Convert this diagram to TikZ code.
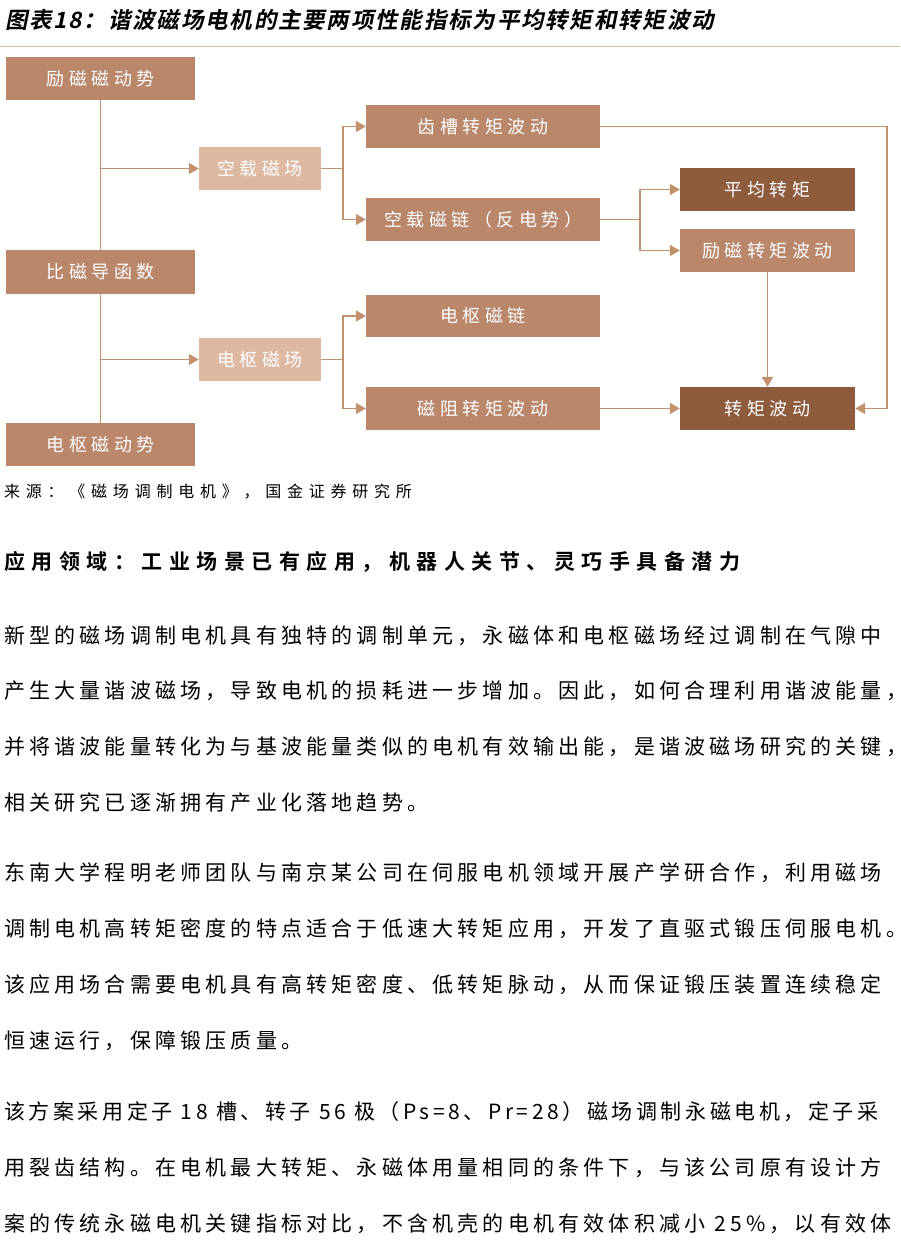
\documentclass[tikz,border=0pt]{standalone}
\usepackage{fontspec}
\setmainfont{Noto Sans CJK SC}
\newfontfamily\cjkb{Noto Sans CJK SC Bold}[FakeSlant=0.2]
\newfontfamily\cjkh{Noto Sans CJK SC Bold}
\usetikzlibrary{arrows.meta}
\definecolor{dk}{HTML}{8E5B3D}
\definecolor{md}{HTML}{BA876A}
\definecolor{lt}{HTML}{DEB9A2}
\definecolor{ln}{HTML}{C2926F}
\tikzset{
 bx/.style={fill=#1,draw=none,text=white,font=\fontsize{18}{18}\selectfont\addfontfeature{LetterSpace=25},inner sep=0pt},
 conn/.style={draw=ln,line width=1.8pt},
 arr/.style={conn,-{Triangle[length=10pt,width=11pt]}},
 para/.style={anchor=west,inner sep=0pt,font=\fontsize{21}{21}\selectfont\addfontfeature{LetterSpace=20}}
}
\begin{document}
\begin{tikzpicture}[x=1pt,y=-1pt]
\useasboundingbox (0,0) rectangle (900,1247);
\fill[white] (0,0) rectangle (900,1247);
\node[anchor=west,inner sep=0pt,font=\cjkb\fontsize{22.5}{22.5}\selectfont\addfontfeature{LetterSpace=8}] (title) at (5,20) {图表18：谐波磁场电机的主要两项性能指标为平均转矩和转矩波动};
\draw[draw=lt,line width=1pt] (0,47) -- (900,47);
% boxes
\node[bx=md,minimum width=189pt,minimum height=43pt] (a) at (100.5,78.5) {励磁磁动势};
\node[bx=md,minimum width=189pt,minimum height=44pt] (b) at (100.5,272) {比磁导函数};
\node[bx=md,minimum width=189pt,minimum height=43pt] (c) at (100.5,444.5) {电枢磁动势};
\node[bx=lt,minimum width=122pt,minimum height=43pt] (d) at (260,168.5) {空载磁场};
\node[bx=lt,minimum width=122pt,minimum height=43pt] (e) at (260,359.5) {电枢磁场};
\node[bx=md,minimum width=234pt,minimum height=43pt] (f) at (483,126.5) {齿槽转矩波动};
\node[bx=md,minimum width=234pt,minimum height=43pt] (g) at (483,219.5) {空载磁链（反电势）};
\node[bx=md,minimum width=234pt,minimum height=42pt] (h) at (483,316) {电枢磁链};
\node[bx=md,minimum width=234pt,minimum height=43pt] (i) at (483,408.5) {磁阻转矩波动};
\node[bx=dk,minimum width=175pt,minimum height=43pt] (j) at (767.5,189.5) {平均转矩};
\node[bx=md,minimum width=175pt,minimum height=43pt] (k) at (767.5,250.5) {励磁转矩波动};
\node[bx=dk,minimum width=175pt,minimum height=43pt] (l) at (767.5,408.5) {转矩波动};
% connectors
\draw[conn] (a.south) -- (b.north);
\draw[conn] (b.south) -- (c.north);
\coordinate (p1) at (100,168.5);
\coordinate (p2) at (100,359.5);
\draw[arr] (p1) -- (d.west);
\draw[arr] (p2) -- (e.west);
\coordinate (q1) at (343,168.5);
\coordinate (q2) at (343,359.5);
\draw[conn] (d.east) -- (q1);
\draw[arr] (q1) |- (f.west);
\draw[arr] (q1) |- (g.west);
\draw[conn] (e.east) -- (q2);
\draw[arr] (q2) |- (h.west);
\draw[arr] (q2) |- (i.west);
\coordinate (r1) at (640,219.5);
\draw[conn] (g.east) -- (r1);
\draw[arr] (r1) |- (j.west);
\draw[arr] (r1) |- (k.west);
\draw[arr] (k.south) -- (l.north);
\draw[arr] (i.east) -- (l.west);
\coordinate (s1) at (887,126.5);
\draw[arr] (f.east) -- (s1) |- (l.east);
% texts
\node[anchor=west,inner sep=0pt,font=\fontsize{16}{16}\selectfont\addfontfeature{LetterSpace=36}] (src) at (4,492) {来源：《磁场调制电机》，国金证券研究所};
\node[anchor=west,inner sep=0pt,font=\cjkh\fontsize{21}{21}\selectfont\addfontfeature{LetterSpace=31}] (hd) at (4,562) {应用领域：工业场景已有应用，机器人关节、灵巧手具备潜力};
\node[para] (t1) at (4,636) {新型的磁场调制电机具有独特的调制单元，永磁体和电枢磁场经过调制在气隙中};
\node[para] (t2) at (4,691) {产生大量谐波磁场，导致电机的损耗进一步增加。因此，如何合理利用谐波能量，};
\node[para] (t3) at (4,747) {并将谐波能量转化为与基波能量类似的电机有效输出能，是谐波磁场研究的关键，};
\node[para] (t4) at (4,803) {相关研究已逐渐拥有产业化落地趋势。};
\node[para] (t5) at (4,873) {东南大学程明老师团队与南京某公司在伺服电机领域开展产学研合作，利用磁场};
\node[para] (t6) at (4,929) {调制电机高转矩密度的特点适合于低速大转矩应用，开发了直驱式锻压伺服电机。};
\node[para] (t7) at (4,985) {该应用场合需要电机具有高转矩密度、低转矩脉动，从而保证锻压装置连续稳定};
\node[para] (t8) at (4,1041) {恒速运行，保障锻压质量。};
\node[para,font=\fontsize{21}{21}\selectfont\addfontfeature{LetterSpace=17}] (t9) at (4,1112) {该方案采用定子 18 槽、转子 56 极（Ps=8、Pr=28）磁场调制永磁电机，定子采};
\node[para] (t10) at (4,1168) {用裂齿结构。在电机最大转矩、永磁体用量相同的条件下，与该公司原有设计方};
\node[para] (t11) at (4,1224) {案的传统永磁电机关键指标对比，不含机壳的电机有效体积减小 25\%，以有效体};
\end{tikzpicture}
\end{document}
